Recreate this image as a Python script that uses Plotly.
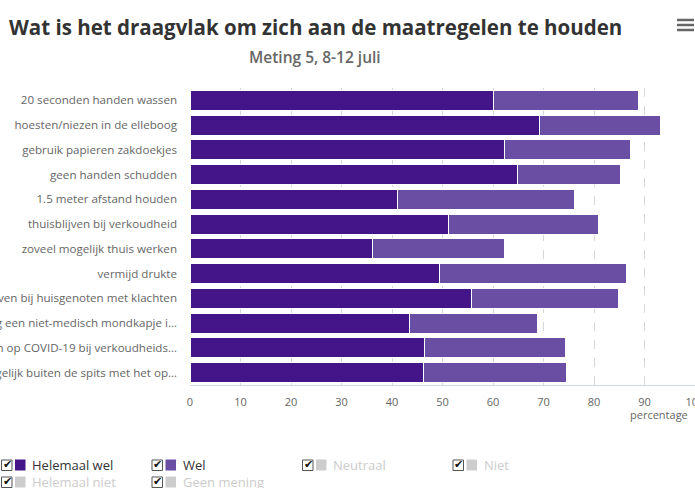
import plotly.graph_objects as go

# Measures (top to bottom) and share of respondents per answer
categories = [
    "20 seconden handen wassen",
    "hoesten/niezen in de elleboog",
    "gebruik papieren zakdoekjes",
    "geen handen schudden",
    "1.5 meter afstand houden",
    "thuisblijven bij verkoudheid",
    "zoveel mogelijk thuis werken",
    "vermijd drukte",
    "thuisblijven bij huisgenoten met klachten",
    "draag een niet-medisch mondkapje i…",
    "laat je testen op COVID-19 bij verkoudheids…",
    "reis zoveel mogelijk buiten de spits met het op…",
]
helemaal_wel = [60.0, 69.2, 62.3, 64.8, 41.1, 51.1, 36.1, 49.4, 55.7, 43.5, 46.5, 46.2]
wel = [28.8, 23.9, 25.0, 20.4, 35.1, 29.7, 26.2, 37.0, 29.2, 25.3, 27.8, 28.4]

x_ticks = [0, 10, 20, 30, 40, 50, 60, 70, 80, 90, 100]

legend_names = ["Helemaal wel", "Wel", "Neutraal", "Niet", "Helemaal niet", "Geen mening"]
legend_active = [True, True, False, False, False, False]

DARK = "#441489"
LIGHT = "#6a4ea3"
HIDDEN = "#cccccc"
legend_colors = [DARK, LIGHT, HIDDEN, HIDDEN, HIDDEN, HIDDEN]

FONT = "Open Sans"

# Page geometry (pixels)
W, H = 695, 488
L, R, T, B = 190, 0, 88, 103
PW, PH = W - L - R, H - T - B


def px_x(px):
    return (px - L) / PW


def px_y(py):
    return (H - B - py) / PH


fig = go.Figure()
fig.add_trace(go.Bar(
    name="Helemaal wel", y=categories, x=helemaal_wel, orientation="h",
    marker=dict(color=DARK, line=dict(color="white", width=1)),
    hovertemplate="%{y}: %{x}%<extra>Helemaal wel</extra>",
))
fig.add_trace(go.Bar(
    name="Wel", y=categories, x=wel, orientation="h",
    marker=dict(color=LIGHT, line=dict(color="white", width=1)),
    hovertemplate="%{y}: %{x}%<extra>Wel</extra>",
))

annotations = [
    dict(text="<b>Wat is het draagvlak om zich aan de maatregelen te houden</b>",
         x=px_x(315), y=px_y(27), xanchor="center", yanchor="middle",
         font=dict(family=FONT, size=20.5, color="#333333")),
    dict(text="Meting 5, 8-12 juli",
         x=px_x(315), y=px_y(57), xanchor="center", yanchor="middle",
         font=dict(family=FONT, size=15.5, weight=600, color="#666666")),
    dict(text="percentage", x=px_x(628), y=px_y(414.5), xanchor="left", yanchor="middle",
         font=dict(family=FONT, size=11, color="#666666")),
]

shapes = []
# menu button
for ly in (20, 25, 30):
    shapes.append(dict(type="line", xref="paper", yref="paper",
                       x0=px_x(677), x1=px_x(694), y0=px_y(ly), y1=px_y(ly),
                       line=dict(color="#666666", width=2.5)))

# legend with checkboxes
col_x = [0, 150.5, 301, 451.5]
row_y = [465, 482]
for i, (name, color, active) in enumerate(zip(legend_names, legend_colors, legend_active)):
    bx = col_x[i % 4]
    cy = row_y[i // 4]
    shapes.append(dict(type="rect", xref="paper", yref="paper",
                       x0=px_x(bx + 1.5), x1=px_x(bx + 12),
                       y0=px_y(cy - 5), y1=px_y(cy + 5.5),
                       fillcolor="white", line=dict(color="#555555", width=1)))
    annotations.append(dict(text="✔", x=px_x(bx + 7), y=px_y(cy - 0.5), xanchor="center",
                            yanchor="middle",
                            font=dict(family="DejaVu Sans", size=11, color="#111111")))
    shapes.append(dict(type="rect", xref="paper", yref="paper",
                       x0=px_x(bx + 15), x1=px_x(bx + 25.5),
                       y0=px_y(cy - 5.5), y1=px_y(cy + 5.5),
                       fillcolor=color, line=dict(width=0)))
    annotations.append(dict(text=name, x=px_x(bx + 30), y=px_y(cy), xanchor="left",
                            yanchor="middle",
                            font=dict(family=FONT, size=13,
                                      color="#333333" if active else HIDDEN)))

for a in annotations:
    a.setdefault("xref", "paper")
    a.setdefault("yref", "paper")
    a.setdefault("showarrow", False)

fig.update_layout(
    width=W, height=H,
    margin=dict(l=L, r=R, t=T, b=B, autoexpand=False),
    barmode="stack", bargap=0.19,
    paper_bgcolor="white", plot_bgcolor="white",
    showlegend=False,
    font=dict(family=FONT, color="#666666"),
    annotations=annotations, shapes=shapes,
    xaxis=dict(range=[0, 100.0001], tickvals=x_ticks, showgrid=True, griddash="dash",
               gridcolor="#d6d6d6", gridwidth=1, zeroline=False,
               showline=True, linecolor="#ccd6eb", linewidth=1,
               ticks="", tickfont=dict(size=11, color="#666666"),
               ticklabelstandoff=7, ticklabeloverflow="allow", fixedrange=True),
    yaxis=dict(range=[len(categories) - 0.5, -0.5], showgrid=False, zeroline=False,
               ticks="", tickfont=dict(size=11.6, color="#666666"),
               ticklabelstandoff=12, fixedrange=True),
)

fig.write_html("out.html")
